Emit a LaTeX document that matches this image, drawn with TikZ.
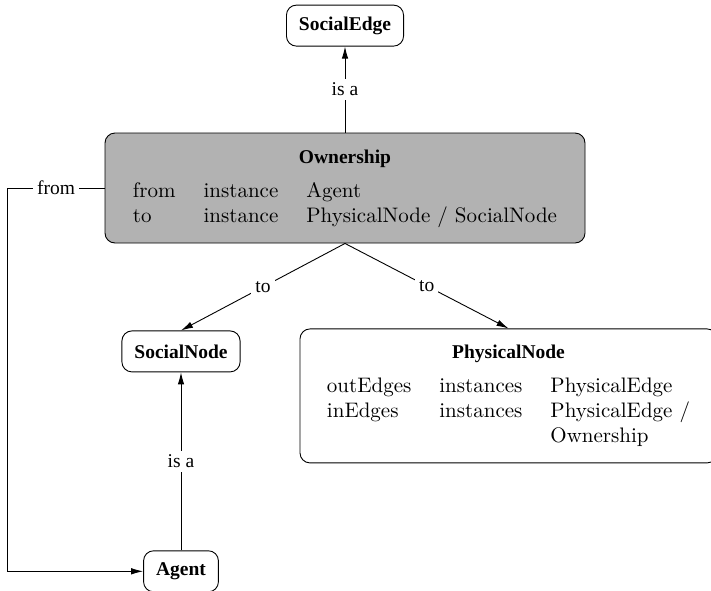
\documentclass[tikz,border=0pt]{standalone}
\usepackage{fontspec}
\newfontfamily\lblfont{Liberation Serif}
\newfontfamily\tblfont{lmroman10-regular.otf}
\usetikzlibrary{arrows.meta,positioning}
\tikzset{
    entity/.style={draw, line width=0.9pt, rounded corners=10pt, inner xsep=12.5pt, inner ysep=0pt,
        minimum height=41pt, font=\lblfont\bfseries\fontsize{19.5}{23}\selectfont},
    record/.style={draw, line width=0.9pt, rounded corners=10pt, inner sep=0pt, font=\tblfont\fontsize{21}{25}\selectfont},
    rel/.style={line width=0.9pt, -{Latex[length=12pt,width=6.5pt]}},
    lbl/.style={fill=white, inner sep=4pt, font=\lblfont\fontsize{19.5}{23}\selectfont},
}
\setlength{\tabcolsep}{14pt}
\begin{document}
\begin{tikzpicture}
    \useasboundingbox (0pt,0pt) rectangle (711pt,-590pt);
    \node[record, fill=black!30, minimum width=480pt, minimum height=110pt] (own) at (345pt,-188pt)
        {\begin{tabular}{@{}lll@{}}
            \multicolumn{3}{c}{\lblfont\bfseries\fontsize{19.5}{23}\selectfont Ownership}\\[9pt]
            from & instance & Agent\\
            to & instance & PhysicalNode / SocialNode
        \end{tabular}};
    \node[entity, above=86pt of own] (sedge) {SocialEdge};
    \node[entity, below=87pt of own.south, xshift=-164pt] (snode) {SocialNode};
    \node[record, minimum width=417pt, minimum height=134pt, below=85pt of own.south, xshift=163.5pt] (pnode)
        {\begin{tabular}{@{}lll@{}}
            \multicolumn{3}{c}{\lblfont\bfseries\fontsize{19.5}{23}\selectfont PhysicalNode}\\[9pt]
            outEdges & instances & PhysicalEdge\\
            inEdges & instances & PhysicalEdge /\\
             & & Ownership
        \end{tabular}};
    \node[entity, below=178pt of snode] (agent) {Agent};
    \coordinate[left=97pt of own.west] (bend);

    \draw[rel] (own) -- node[lbl]{is a} (sedge);
    \draw[rel] (own.south) -- node[lbl]{to} (snode.north);
    \draw[rel] (own.south) -- node[lbl]{to} (pnode.north);
    \draw[rel] (agent) -- node[lbl]{is a} (snode);
    \draw[rel] (own.west) -- node[lbl]{from} (bend) |- (agent.west);
\end{tikzpicture}
\end{document}
